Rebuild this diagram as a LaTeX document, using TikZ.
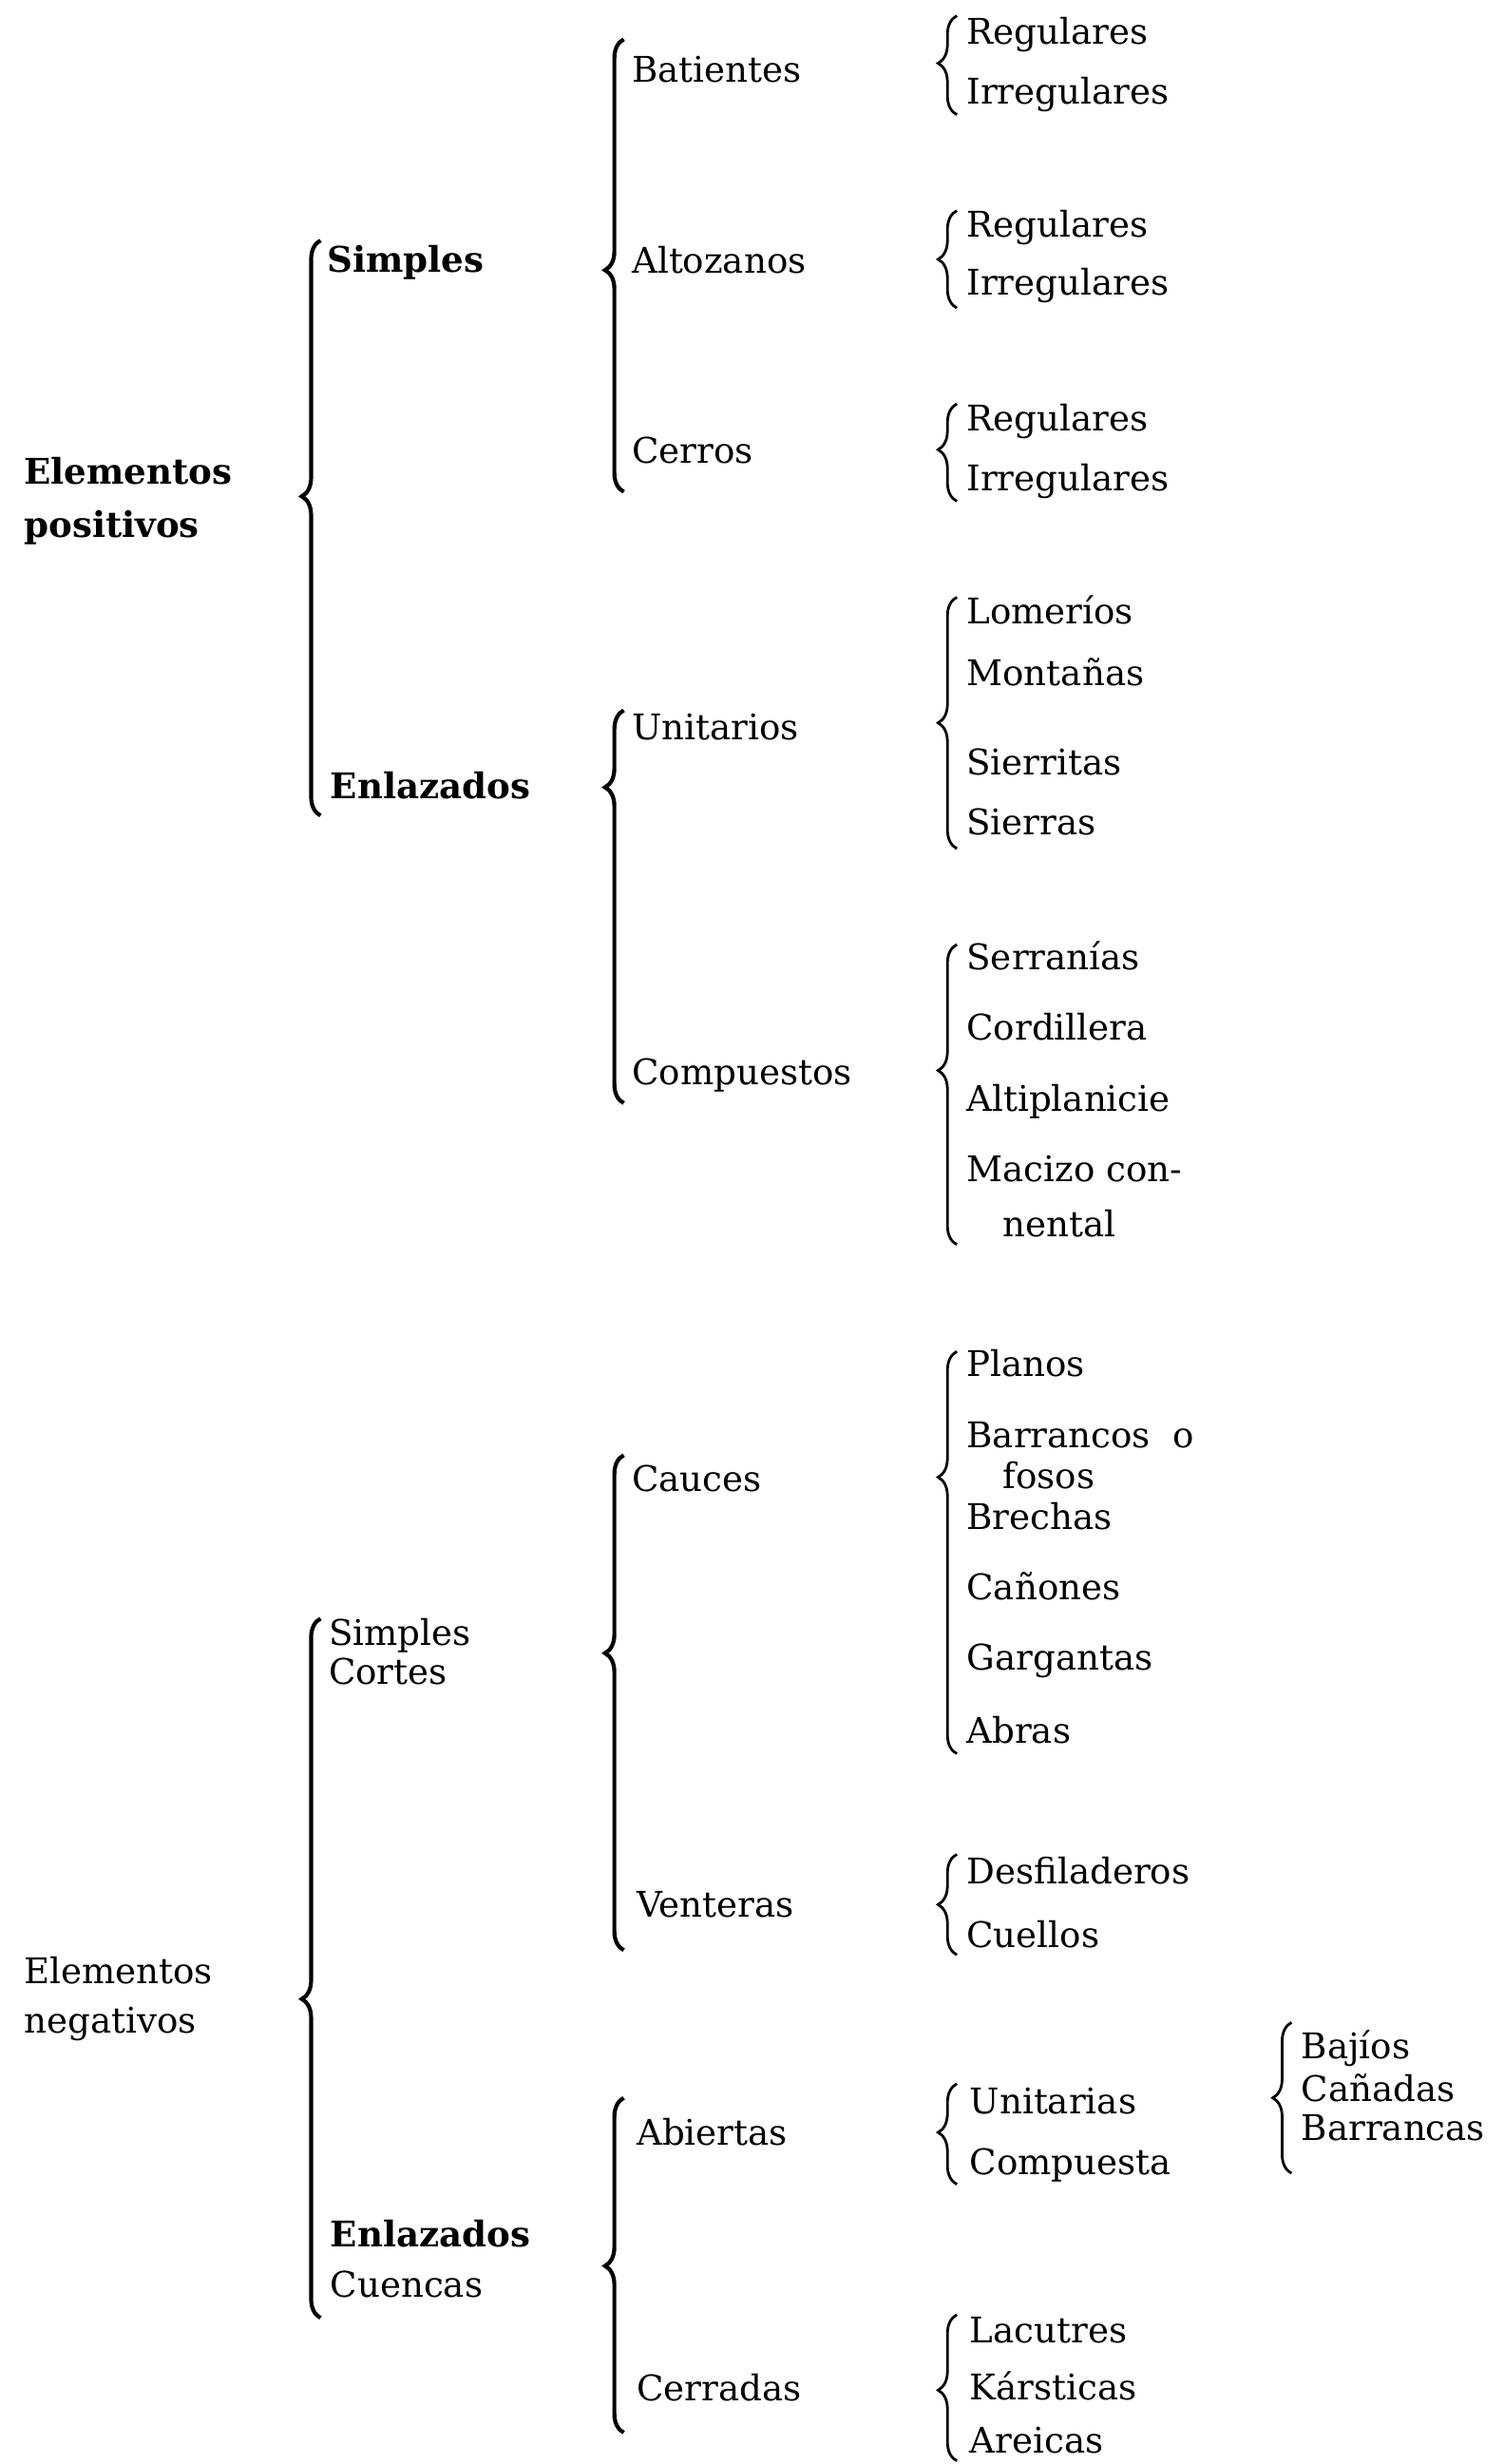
\documentclass[tikz,border=0pt]{standalone}
\usepackage{fontspec}
\setmainfont{DejaVu Serif}
\usepackage{tikz}
\usetikzlibrary{decorations.pathreplacing}

\begin{document}
\begin{tikzpicture}[x=0.025cm, y=-0.025cm,
  font=\fontsize{16}{19}\selectfont,
  lbl/.style={anchor=west, inner sep=0pt, text height=10pt, text depth=0pt},
  bld/.style={lbl, font=\fontsize{16}{19}\selectfont\bfseries},
  brc/.style={decorate, decoration={brace, amplitude=8.5pt, aspect=#1}, line width=1.2pt},
  bigbrc/.style={brc=#1, line width=1.8pt}]
\useasboundingbox (0,0) rectangle (957,1568);

% Elementos positivos
\node[bld] (ep1) at (15,301) {Elementos};
\node[bld] (ep2) at (15,335) {positivos};
\node[bld] (sim) at (208,166) {Simples};
\node[bld] (enl) at (210,501) {Enlazados};
\node[lbl] (bat) at (402,45) {Batientes};
\node[lbl] (alt) at (402,167) {Altozanos};
\node[lbl] (cer) at (402,288) {Cerros};
\node[lbl] (uni) at (402,464) {Unitarios};
\node[lbl] (cmp) at (402,683) {Compuestos};
\node[lbl] (r1) at (615,21) {Regulares};
\node[lbl] (i1) at (615,59) {Irregulares};
\node[lbl] (r2) at (615,144) {Regulares};
\node[lbl] (i2) at (615,181) {Irregulares};
\node[lbl] (r3) at (615,267) {Regulares};
\node[lbl] (i3) at (615,305) {Irregulares};
\node[lbl] (lom) at (615,390) {Lomeríos};
\node[lbl] (mon) at (615,429) {Montañas};
\node[lbl] (sit) at (615,486) {Sierritas};
\node[lbl] (sie) at (615,524) {Sierras};
\node[lbl] (srr) at (615,610) {Serranías};
\node[lbl] (cor) at (615,655) {Cordillera};
\node[lbl] (alp) at (615,700) {Altiplanicie};
\node[lbl] (mac1) at (615,745) {Macizo con-};
\node[lbl] (mac2) at (638,780) {nental};

% Elementos negativos
\node[lbl] (en1) at (15,1255) {Elementos};
\node[lbl] (en2) at (15,1287) {negativos};
\node[lbl] (sc1) at (209,1040) {Simples};
\node[lbl] (sc2) at (209,1065) {Cortes};
\node[bld] (ec1) at (210,1423) {Enlazados};
\node[lbl] (ec2) at (210,1455) {Cuencas};
\node[lbl] (cau) at (402,942) {Cauces};
\node[lbl] (ven) at (405,1213) {Venteras};
\node[lbl] (abi) at (405,1358) {Abiertas};
\node[lbl] (crr) at (405,1521) {Cerradas};
\node[lbl] (pla) at (615,869) {Planos};
\node[lbl] (bar1) at (615,914) {Barrancos~~o};
\node[lbl] (bar2) at (638,940) {fosos};
\node[lbl] (bre) at (615,966) {Brechas};
\node[lbl] (can) at (615,1011) {Cañones};
\node[lbl] (gar) at (615,1056) {Gargantas};
\node[lbl] (abr) at (615,1102) {Abras};
\node[lbl] (des) at (615,1192) {Desfiladeros};
\node[lbl] (cue) at (615,1232) {Cuellos};
\node[lbl] (una) at (617,1338) {Unitarias};
\node[lbl] (cpa) at (617,1377) {Compuesta};
\node[lbl] (lac) at (617,1484) {Lacutres};
\node[lbl] (kar) at (617,1520) {Kársticas};
\node[lbl] (are) at (617,1554) {Areicas};
\node[lbl] (baj) at (828,1303) {Bajíos};
\node[lbl] (cnd) at (828,1330) {Cañadas};
\node[lbl] (brr) at (828,1355) {Barrancas};

% llaves
\draw[bigbrc=.555] (204,519) -- (204,153);
\draw[bigbrc=.49] (397,313) -- (397,25);
\draw[brc=.52] (609,73) -- (609,10);
\draw[brc=.5] (609,196) -- (609,134);
\draw[brc=.53] (609,319) -- (609,257);
\draw[bigbrc=.804] (397,702) -- (397,452);
\draw[brc=.5] (609,540) -- (609,380);
\draw[brc=.58] (609,792) -- (609,601);

\draw[bigbrc=.456] (204,1475) -- (204,1030);
\draw[bigbrc=.6] (397,1241) -- (397,926);
\draw[brc=.6875] (609,1116) -- (609,860);
\draw[brc=.5] (609,1244) -- (609,1180);
\draw[bigbrc=.498] (397,1548) -- (397,1335);
\draw[brc=.516] (609,1390) -- (609,1326);
\draw[brc=.5] (822,1383) -- (822,1287);
\draw[brc=.484] (609,1566) -- (609,1473);
\end{tikzpicture}
\end{document}
